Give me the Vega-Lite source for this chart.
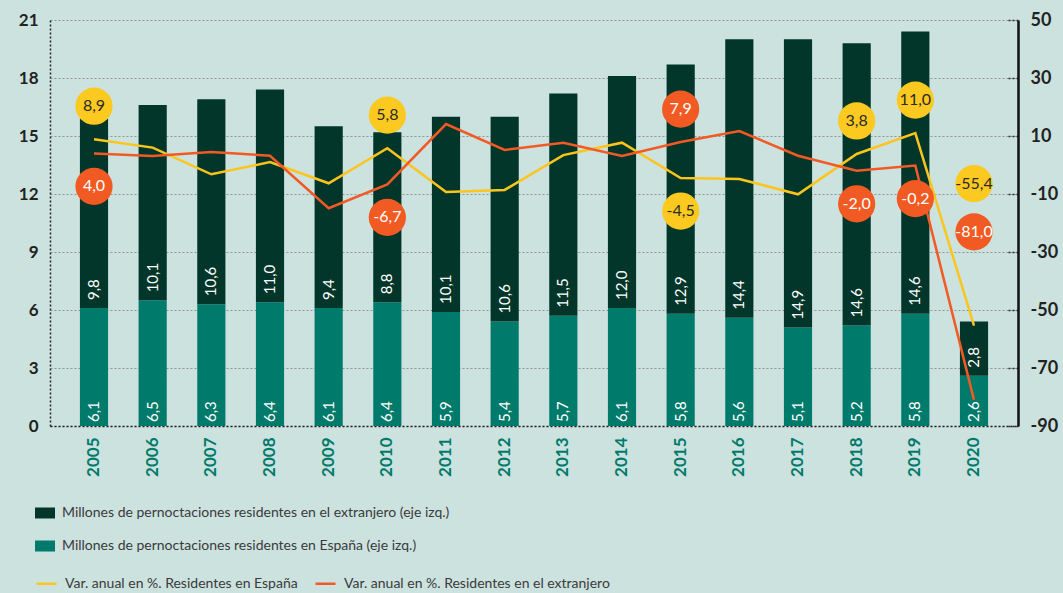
{
  "$schema": "https://vega.github.io/schema/vega-lite/v6.json",
  "width": 968,
  "height": 406,
  "autosize": "none",
  "padding": {"left": 50, "top": 20, "right": 45, "bottom": 167},
  "background": "#cce2df",
  "config": {
    "view": {"stroke": null},
    "font": "Lato",
    "locale": {"number": {"decimal": ",", "thousands": ".", "grouping": [3], "currency": ["", " €"], "minus": "-"}}
  },
  "datasets": {
    "bars": [
      {"year": 2005, "serie": "España", "value": 6.1}, {"year": 2005, "serie": "Extranjero", "value": 9.8},
      {"year": 2006, "serie": "España", "value": 6.5}, {"year": 2006, "serie": "Extranjero", "value": 10.1},
      {"year": 2007, "serie": "España", "value": 6.3}, {"year": 2007, "serie": "Extranjero", "value": 10.6},
      {"year": 2008, "serie": "España", "value": 6.4}, {"year": 2008, "serie": "Extranjero", "value": 11.0},
      {"year": 2009, "serie": "España", "value": 6.1}, {"year": 2009, "serie": "Extranjero", "value": 9.4},
      {"year": 2010, "serie": "España", "value": 6.4}, {"year": 2010, "serie": "Extranjero", "value": 8.8},
      {"year": 2011, "serie": "España", "value": 5.9}, {"year": 2011, "serie": "Extranjero", "value": 10.1},
      {"year": 2012, "serie": "España", "value": 5.4}, {"year": 2012, "serie": "Extranjero", "value": 10.6},
      {"year": 2013, "serie": "España", "value": 5.7}, {"year": 2013, "serie": "Extranjero", "value": 11.5},
      {"year": 2014, "serie": "España", "value": 6.1}, {"year": 2014, "serie": "Extranjero", "value": 12.0},
      {"year": 2015, "serie": "España", "value": 5.8}, {"year": 2015, "serie": "Extranjero", "value": 12.9},
      {"year": 2016, "serie": "España", "value": 5.6}, {"year": 2016, "serie": "Extranjero", "value": 14.4},
      {"year": 2017, "serie": "España", "value": 5.1}, {"year": 2017, "serie": "Extranjero", "value": 14.9},
      {"year": 2018, "serie": "España", "value": 5.2}, {"year": 2018, "serie": "Extranjero", "value": 14.6},
      {"year": 2019, "serie": "España", "value": 5.8}, {"year": 2019, "serie": "Extranjero", "value": 14.6},
      {"year": 2020, "serie": "España", "value": 2.6}, {"year": 2020, "serie": "Extranjero", "value": 2.8}
    ],
    "vars": [
      {"year": 2005, "serie": "España", "value": 8.9}, {"year": 2005, "serie": "Extranjero", "value": 4.0},
      {"year": 2006, "serie": "España", "value": 6.0}, {"year": 2006, "serie": "Extranjero", "value": 3.1},
      {"year": 2007, "serie": "España", "value": -3.2}, {"year": 2007, "serie": "Extranjero", "value": 4.5},
      {"year": 2008, "serie": "España", "value": 1.0}, {"year": 2008, "serie": "Extranjero", "value": 3.2},
      {"year": 2009, "serie": "España", "value": -6.3}, {"year": 2009, "serie": "Extranjero", "value": -14.9},
      {"year": 2010, "serie": "España", "value": 5.8}, {"year": 2010, "serie": "Extranjero", "value": -6.7},
      {"year": 2011, "serie": "España", "value": -9.3}, {"year": 2011, "serie": "Extranjero", "value": 14.1},
      {"year": 2012, "serie": "España", "value": -8.6}, {"year": 2012, "serie": "Extranjero", "value": 5.2},
      {"year": 2013, "serie": "España", "value": 3.4}, {"year": 2013, "serie": "Extranjero", "value": 7.7},
      {"year": 2014, "serie": "España", "value": 7.7}, {"year": 2014, "serie": "Extranjero", "value": 3.1},
      {"year": 2015, "serie": "España", "value": -4.5}, {"year": 2015, "serie": "Extranjero", "value": 7.9},
      {"year": 2016, "serie": "España", "value": -4.8}, {"year": 2016, "serie": "Extranjero", "value": 11.7},
      {"year": 2017, "serie": "España", "value": -10.1}, {"year": 2017, "serie": "Extranjero", "value": 3.2},
      {"year": 2018, "serie": "España", "value": 3.8}, {"year": 2018, "serie": "Extranjero", "value": -2.0},
      {"year": 2019, "serie": "España", "value": 11.0}, {"year": 2019, "serie": "Extranjero", "value": -0.2},
      {"year": 2020, "serie": "España", "value": -55.4}, {"year": 2020, "serie": "Extranjero", "value": -81.0}
    ]
  },
  "encoding": {
    "x": {
      "field": "year", "type": "ordinal",
      "scale": {"paddingInner": 0.52, "paddingOuter": 0.51},
      "axis": {
        "title": null, "labelAngle": 270, "labelColor": "#007a6b", "labelFontSize": 17, "labelFontWeight": "bold",
        "ticks": false, "labelPadding": 11, "domainDash": [2, 2], "domainColor": "#222", "domainWidth": 1.5
      }
    }
  },
  "layer": [
    {
      "data": {"name": "bars"},
      "transform": [
        {"stack": "value", "groupby": ["year"], "sort": [{"field": "serie", "order": "ascending"}], "as": ["v0", "v1"]}
      ],
      "encoding": {
        "y": {
          "field": "v0", "type": "quantitative",
          "scale": {"domain": [0, 21], "nice": false, "zero": true},
          "axis": {
            "orient": "left", "title": null, "values": [0, 3, 6, 9, 12, 15, 18, 21],
            "grid": true, "gridDash": [2, 2], "gridColor": "#8e9795", "gridWidth": 1,
            "domainDash": [2, 2], "domainColor": "#222", "domainWidth": 1.5,
            "ticks": false, "labelPadding": 12, "labelFontSize": 17, "labelFontWeight": "bold", "labelColor": "#222"
          }
        }
      },
      "layer": [
        {
          "mark": {"type": "bar"},
          "encoding": {
            "y2": {"field": "v1"},
            "fill": {
              "field": "serie", "type": "nominal",
              "scale": {"domain": ["Extranjero", "España"], "range": ["#02362a", "#007a6b"]},
              "legend": {
                "orient": "none", "legendX": -15, "legendY": 483, "title": null, "direction": "vertical",
                "symbolType": "M-1,-0.55H1V0.55H-1Z", "symbolSize": 400, "symbolStrokeWidth": 0, "symbolOpacity": 1,
                "labelFont": "Lato", "labelFontSize": 14, "labelColor": "#3a3a3a", "labelOffset": 7,
                "rowPadding": 16, "labelLimit": 700, "padding": 0,
                "labelExpr": "datum.label == 'España' ? 'Millones de pernoctaciones residentes en España (eje izq.)' : 'Millones de pernoctaciones residentes en el extranjero (eje izq.)'"
              }
            }
          }
        },
        {
          "transform": [{"filter": "datum.v0 == 0"}],
          "mark": {"type": "text", "angle": 270, "align": "left", "baseline": "middle", "dx": 4, "fill": "white", "fontSize": 15},
          "encoding": {"text": {"field": "value", "type": "quantitative", "format": ".1f"}}
        },
        {
          "transform": [{"filter": "datum.v0 > 0"}],
          "mark": {"type": "text", "angle": 270, "align": "left", "baseline": "middle", "dx": 8, "fill": "white", "fontSize": 15},
          "encoding": {"text": {"field": "value", "type": "quantitative", "format": ".1f"}}
        }
      ]
    },
    {
      "data": {"name": "vars"},
      "encoding": {
        "y": {
          "field": "value", "type": "quantitative",
          "scale": {"domain": [-90, 50], "nice": false, "zero": false},
          "axis": {
            "orient": "right", "title": null, "values": [-90, -70, -50, -30, -10, 10, 30, 50], "format": "d",
            "grid": false, "domainColor": "#111", "domainWidth": 2.5,
            "tickSize": -12, "tickDash": [2, 2], "tickColor": "#333", "tickWidth": 1.5,
            "labelPadding": 24, "labelFontSize": 18, "labelFontWeight": "bold", "labelColor": "#222"
          }
        }
      },
      "layer": [
        {
          "mark": {"type": "line", "strokeWidth": 2.5},
          "encoding": {
            "stroke": {
              "field": "serie", "type": "nominal",
              "scale": {"domain": ["España", "Extranjero"], "range": ["#fbc51e", "#f15a24"]},
              "legend": {
                "orient": "none", "legendX": -15, "legendY": 552, "title": null, "direction": "horizontal",
                "symbolType": "stroke", "symbolSize": 400, "symbolStrokeWidth": 2.5,
                "labelFont": "Lato", "labelFontSize": 14, "labelColor": "#3a3a3a", "labelOffset": 7,
                "columnPadding": 12, "labelLimit": 700, "padding": 0,
                "labelExpr": "datum.label == 'España' ? 'Var. anual en %. Residentes en España' : 'Var. anual en %. Residentes en el extranjero'"
              }
            }
          }
        },
        {
          "transform": [
            {"filter": {"field": "year", "oneOf": [2005, 2010, 2015, 2018, 2019]}},
            {"joinaggregate": [{"op": "max", "field": "value", "as": "vmax"}], "groupby": ["year"]},
            {"filter": "datum.value == datum.vmax"}
          ],
          "layer": [
            {
              "mark": {"type": "circle", "size": 1385, "opacity": 1, "yOffset": -33},
              "encoding": {"fill": {"condition": {"test": "datum.serie == 'España'", "value": "#fcc920"}, "value": "#f15a22"}}
            },
            {
              "mark": {"type": "text", "fontSize": 16, "yOffset": -33, "baseline": "middle"},
              "encoding": {
                "text": {"field": "value", "type": "quantitative", "format": ".1f"},
                "fill": {"condition": {"test": "datum.serie == 'España'", "value": "#2a2a2a"}, "value": "white"}
              }
            }
          ]
        },
        {
          "transform": [
            {"filter": {"field": "year", "oneOf": [2005, 2010, 2015, 2018, 2019]}},
            {"joinaggregate": [{"op": "min", "field": "value", "as": "vmin"}], "groupby": ["year"]},
            {"filter": "datum.value == datum.vmin"}
          ],
          "layer": [
            {
              "mark": {"type": "circle", "size": 1385, "opacity": 1, "yOffset": 33},
              "encoding": {"fill": {"condition": {"test": "datum.serie == 'España'", "value": "#fcc920"}, "value": "#f15a22"}}
            },
            {
              "mark": {"type": "text", "fontSize": 16, "yOffset": 33, "baseline": "middle"},
              "encoding": {
                "text": {"field": "value", "type": "quantitative", "format": ".1f"},
                "fill": {"condition": {"test": "datum.serie == 'España'", "value": "#2a2a2a"}, "value": "white"}
              }
            }
          ]
        },
        {
          "transform": [{"filter": "datum.year == 2020 && datum.serie == 'España'"}],
          "layer": [
            {"mark": {"type": "circle", "size": 1385, "opacity": 1, "yOffset": -142, "fill": "#fcc920"}, "encoding": {}},
            {
              "mark": {"type": "text", "fontSize": 16, "yOffset": -142, "baseline": "middle", "fill": "#2a2a2a"},
              "encoding": {"text": {"field": "value", "type": "quantitative", "format": ".1f"}}
            }
          ]
        },
        {
          "transform": [{"filter": "datum.year == 2020 && datum.serie == 'Extranjero'"}],
          "layer": [
            {"mark": {"type": "circle", "size": 1385, "opacity": 1, "yOffset": -168, "fill": "#f15a22"}, "encoding": {}},
            {
              "mark": {"type": "text", "fontSize": 16, "yOffset": -168, "baseline": "middle", "fill": "white"},
              "encoding": {"text": {"field": "value", "type": "quantitative", "format": ".1f"}}
            }
          ]
        }
      ]
    }
  ],
  "resolve": {"scale": {"y": "independent"}}
}
